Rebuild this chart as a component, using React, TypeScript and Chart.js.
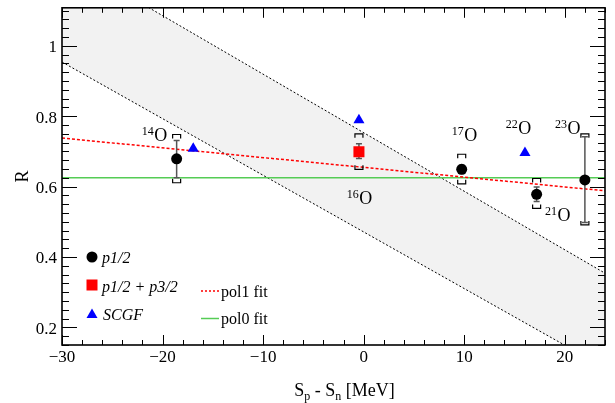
import React, { useEffect, useRef } from 'react';
import { Chart, registerables } from 'chart.js';
Chart.register(...registerables);

const FONT = '"Liberation Serif", "Times New Roman", serif';

// axis ranges & ticks
const xRange = [-30, 24];
const yRange = [0.15, 1.108];
const xMajorTicks = [-30, -20, -10, 0, 10, 20];
const yMajorTicks = [0.2, 0.4, 0.6, 0.8, 1.0];
const xMinorStep = 2;
const yMinorStep = 0.025;

// p1/2 points: 14O, 17O, 21O, 23O
const p12X = [-18.6, 9.75, 17.2, 22.0];
const p12Y = [0.679, 0.649, 0.578, 0.619];
const p12StatLo = [0.625, 0.637, 0.558, 0.498];
const p12StatHi = [0.731, 0.661, 0.599, 0.742];
const p12SysLo = [0.611, 0.608, 0.538, 0.491];
const p12SysHi = [0.748, 0.692, 0.623, 0.75];

// p1/2 + p3/2 point: 16O
const p13X = [-0.47];
const p13Y = [0.699];
const p13StatLo = [0.68];
const p13StatHi = [0.722];
const p13SysLo = [0.649];
const p13SysHi = [0.75];

// SCGF: 14O, 16O, 22O
const scgfX = [-16.95, -0.47, 16.04];
const scgfY = [0.708, 0.789, 0.696];

// fits
const fitX = [-30, 24];
const pol1Y = [0.738, 0.588];
const pol0Y = [0.625, 0.625];
const bandUpperY = [1.252, 0.354];
const bandLowerY = [0.954, 0.085];

// isotope labels (left x, baseline y in data units)
const isoMass = ['14', '16', '17', '21', '22', '23'];
const isoLabelX = [-22.08, -1.69, 8.75, 18.03, 14.12, 19.02];
const isoLabelY = [0.729, 0.55, 0.729, 0.501, 0.75, 0.75];

const toPts = (xs: number[], ys: number[]) => xs.map((x, i) => ({ x, y: ys[i] }));

const overlay = {
  id: 'overlay',
  beforeDatasetDraw(chart: any, args: any) {
    if (args.index !== 2) return;
    const ctx = chart.ctx;
    const xs = chart.scales.x;
    const ys = chart.scales.y;
    const drawErr = (x: number, sLo: number, sHi: number, yLo: number, yHi: number) => {
      const px = xs.getPixelForValue(x);
      ctx.save();
      ctx.strokeStyle = '#555';
      ctx.lineWidth = 1.5;
      const a = ys.getPixelForValue(sLo);
      const b = ys.getPixelForValue(sHi);
      ctx.beginPath();
      ctx.moveTo(px, a); ctx.lineTo(px, b);
      ctx.moveTo(px - 3, a); ctx.lineTo(px + 3, a);
      ctx.moveTo(px - 3, b); ctx.lineTo(px + 3, b);
      ctx.stroke();
      ctx.strokeStyle = '#000';
      ctx.lineWidth = 1.2;
      const top = ys.getPixelForValue(yHi);
      const bot = ys.getPixelForValue(yLo);
      ctx.beginPath();
      ctx.moveTo(px - 4, top + 4); ctx.lineTo(px - 4, top); ctx.lineTo(px + 4, top); ctx.lineTo(px + 4, top + 4);
      ctx.moveTo(px - 4, bot - 4); ctx.lineTo(px - 4, bot); ctx.lineTo(px + 4, bot); ctx.lineTo(px + 4, bot - 4);
      ctx.stroke();
      ctx.restore();
    };
    p12X.forEach((x, i) => drawErr(x, p12StatLo[i], p12StatHi[i], p12SysLo[i], p12SysHi[i]));
    p13X.forEach((x, i) => drawErr(x, p13StatLo[i], p13StatHi[i], p13SysLo[i], p13SysHi[i]));
  },
  afterDraw(chart: any) {
    const ctx = chart.ctx;
    const xs = chart.scales.x;
    const ys = chart.scales.y;
    const { left, right, top, bottom } = chart.chartArea;
    ctx.save();
    // ticks
    ctx.strokeStyle = '#000';
    ctx.lineWidth = 1;
    ctx.beginPath();
    for (let v = xRange[0]; v <= xRange[1] + 1e-9; v += xMinorStep) {
      const major = xMajorTicks.some((t) => Math.abs(t - v) < 1e-6);
      const len = major ? 10 : 5;
      const p = Math.round(xs.getPixelForValue(v)) + 0.5;
      ctx.moveTo(p, bottom); ctx.lineTo(p, bottom - len);
      ctx.moveTo(p, top); ctx.lineTo(p, top + len);
    }
    for (let k = Math.ceil(yRange[0] / yMinorStep); k * yMinorStep <= yRange[1] + 1e-9; k++) {
      const v = k * yMinorStep;
      const major = yMajorTicks.some((t) => Math.abs(t - v) < 1e-6);
      const len = major ? 15 : 7;
      const p = Math.round(ys.getPixelForValue(v)) + 0.5;
      ctx.moveTo(left, p); ctx.lineTo(left + len, p);
      ctx.moveTo(right, p); ctx.lineTo(right - len, p);
    }
    ctx.stroke();
    // frame
    ctx.lineWidth = 1.6;
    ctx.strokeRect(left, top, right - left, bottom - top);

    // isotope labels
    ctx.fillStyle = '#000';
    ctx.textBaseline = 'alphabetic';
    ctx.textAlign = 'left';
    isoMass.forEach((m, i) => {
      const px = xs.getPixelForValue(isoLabelX[i]);
      const py = ys.getPixelForValue(isoLabelY[i]);
      ctx.font = `12px ${FONT}`;
      ctx.fillText(m, px, py - 6);
      const w = ctx.measureText(m).width;
      ctx.font = `18px ${FONT}`;
      ctx.fillText('O', px + w + 0.5, py);
    });

    // legend
    ctx.fillStyle = '#000';
    ctx.beginPath();
    ctx.arc(92, 257, 5.5, 0, Math.PI * 2);
    ctx.fill();
    ctx.fillStyle = '#ff0000';
    ctx.fillRect(86.5, 279.5, 11, 11);
    ctx.fillStyle = '#0000ff';
    ctx.beginPath();
    ctx.moveTo(92, 308.5); ctx.lineTo(97.5, 318); ctx.lineTo(86.5, 318); ctx.closePath();
    ctx.fill();
    ctx.fillStyle = '#000';
    ctx.font = `italic 16px ${FONT}`;
    ctx.fillText('p1/2', 102, 263);
    ctx.fillText('p1/2 + p3/2', 102, 291.5);
    ctx.fillText('SCGF', 103, 320);
    ctx.lineWidth = 1.5;
    ctx.strokeStyle = '#ff0000';
    ctx.setLineDash([2, 2]);
    ctx.beginPath(); ctx.moveTo(201, 291); ctx.lineTo(219, 291); ctx.stroke();
    ctx.setLineDash([]);
    ctx.strokeStyle = '#55cc55';
    ctx.beginPath(); ctx.moveTo(201, 318.5); ctx.lineTo(219, 318.5); ctx.stroke();
    ctx.font = `16px ${FONT}`;
    ctx.fillText('pol1 fit', 221, 296.5);
    ctx.fillText('pol0 fit', 221, 324);

    // x title
    const big = `18px ${FONT}`;
    const small = `12px ${FONT}`;
    const parts: [string, string, number][] = [
      ['S', big, 0], ['p', small, 4], [' - S', big, 0], ['n', small, 4], [' [MeV]', big, 0],
    ];
    let total = 0;
    parts.forEach(([t, f]) => { ctx.font = f; total += ctx.measureText(t).width; });
    let cx = 344.5 - total / 2;
    parts.forEach(([t, f, dy]) => {
      ctx.font = f;
      ctx.fillText(t, cx, 396 + dy);
      cx += ctx.measureText(t).width;
    });
    // y title
    ctx.translate(28, 176.5);
    ctx.rotate(-Math.PI / 2);
    ctx.textAlign = 'center';
    ctx.font = big;
    ctx.fillText('R', 0, 0);
    ctx.restore();
  },
};

export default function App() {
  const ref = useRef<HTMLCanvasElement>(null);
  useEffect(() => {
    document.body.style.margin = '0';
    const lineStyle = { showLine: true, pointRadius: 0, fill: false };
    const chart = new Chart(ref.current as HTMLCanvasElement, {
      type: 'scatter',
      data: {
        datasets: [
          {
            label: 'p1/2', data: toPts(p12X, p12Y), pointStyle: 'circle', pointRadius: 5.5,
            backgroundColor: '#000', borderColor: '#000', borderWidth: 0,
          },
          {
            label: 'p1/2 + p3/2', data: toPts(p13X, p13Y), pointStyle: 'rect', pointRadius: 7.8,
            backgroundColor: '#ff0000', borderColor: '#ff0000', borderWidth: 0,
          },
          {
            label: 'SCGF', data: toPts(scgfX, scgfY), pointStyle: 'triangle', pointRadius: 6.4,
            backgroundColor: '#0000ff', borderColor: '#0000ff', borderWidth: 0,
          },
          {
            label: 'pol1 fit', data: toPts(fitX, pol1Y), ...lineStyle,
            borderColor: '#ff0000', borderWidth: 1.5, borderDash: [3, 2],
          },
          {
            label: 'pol0 fit', data: toPts(fitX, pol0Y), ...lineStyle,
            borderColor: '#55cc55', borderWidth: 1.6,
          },
          {
            label: 'band upper', data: toPts(fitX, bandUpperY), ...lineStyle, fill: '+1',
            backgroundColor: 'rgba(0,0,0,0.05)', borderColor: '#000', borderWidth: 1, borderDash: [2, 2],
          },
          {
            label: 'band lower', data: toPts(fitX, bandLowerY), ...lineStyle,
            borderColor: '#000', borderWidth: 1, borderDash: [2, 2],
          },
        ],
      } as any,
      options: {
        animation: false,
        responsive: false,
        devicePixelRatio: 1,
        layout: { padding: { top: 6, right: 10, left: 0, bottom: 0 } },
        plugins: { legend: { display: false }, tooltip: { enabled: false } },
        events: [],
        scales: {
          x: {
            type: 'linear', min: xRange[0], max: xRange[1],
            grid: { display: false, drawTicks: false },
            border: { display: false },
            afterBuildTicks: (s: any) => { s.ticks = xMajorTicks.map((v) => ({ value: v })); },
            afterFit: (s: any) => {
              s.height = 58; s.paddingLeft = 0; s.paddingRight = 0; s.paddingTop = 0; s.paddingBottom = 0;
            },
            ticks: {
              autoSkip: false, maxRotation: 0, padding: 2, color: '#000',
              font: { family: FONT, size: 17 },
              callback: (v: any) => (v < 0 ? '\u2212' + Math.abs(v) : String(v)),
            },
          },
          y: {
            type: 'linear', min: yRange[0], max: yRange[1],
            grid: { display: false, drawTicks: false },
            border: { display: false },
            afterBuildTicks: (s: any) => { s.ticks = yMajorTicks.map((v) => ({ value: v })); },
            afterFit: (s: any) => {
              s.width = 62; s.paddingLeft = 0; s.paddingRight = 0; s.paddingTop = 0; s.paddingBottom = 0;
            },
            ticks: {
              autoSkip: false, padding: 5, color: '#000', labelOffset: 2,
              font: { family: FONT, size: 17 },
              callback: (v: any) => (Math.abs(v - 1) < 1e-9 ? '1' : Number(v).toFixed(1)),
            },
          },
        },
      } as any,
      plugins: [overlay],
    });
    return () => chart.destroy();
  }, []);
  return (
    <div style={{ width: 615, height: 403 }}>
      <canvas ref={ref} width={615} height={403} style={{ display: 'block' }} />
    </div>
  );
}
